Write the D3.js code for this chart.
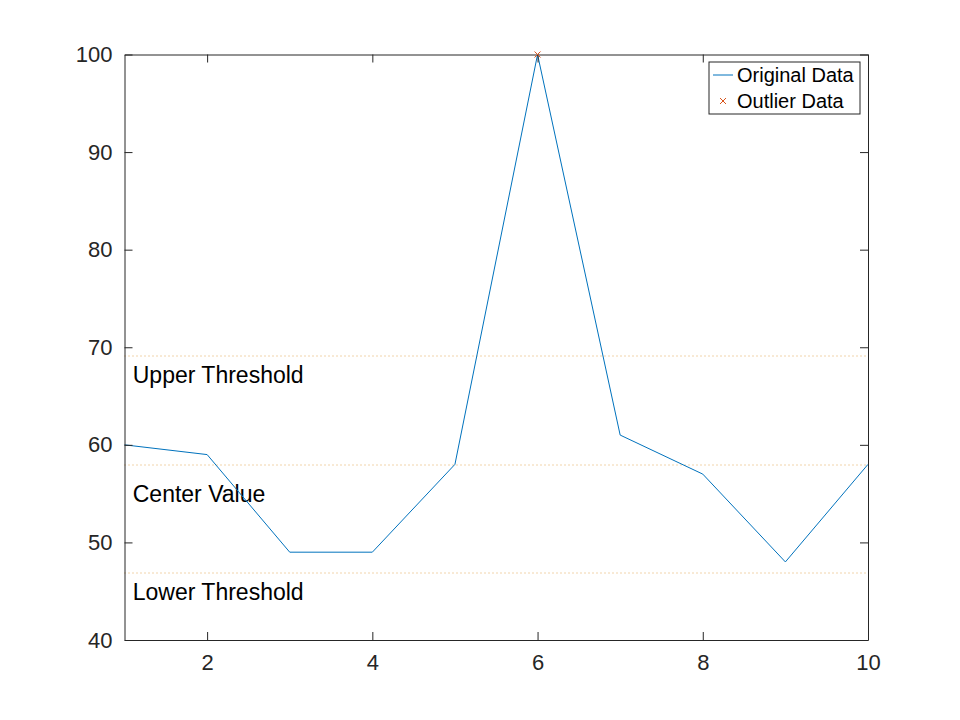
<!DOCTYPE html>
<html>
<head>
<meta charset="utf-8">
<script src="https://cdn.jsdelivr.net/npm/d3@7"></script>
<style>
  body { margin: 0; background: #fff; }
  text { font-family: "Liberation Sans", Arial, sans-serif; }
</style>
</head>
<body>
<div id="chart"></div>
<script>
// data
let xValues = [1, 2, 3, 4, 5, 6, 7, 8, 9, 10];
let yValues = [60, 59, 49, 49, 58, 100, 61, 57, 48, 58];
let outlierX = [6];
let outlierY = [100];
let thresholdNames = ["Upper Threshold", "Center Value", "Lower Threshold"];
let thresholdValues = [69.12, 58, 46.88];
let xTicks = [2, 4, 6, 8, 10];
let yTicks = [40, 50, 60, 70, 80, 90, 100];
let legendNames = ["Original Data", "Outlier Data"];

let blue = "#0072BD", orange = "#D95319", yellow = "#E3A857", axisColor = "#262626";

let margin = { top: 54.5, right: 92, bottom: 80, left: 124.5 };
let width = 960 - margin.left - margin.right;
let height = 720 - margin.top - margin.bottom;

let svg = d3.select("#chart").append("svg")
    .attr("width", 960)
    .attr("height", 720)
    .append("g")
    .attr("transform", "translate(" + margin.left + "," + margin.top + ")");

let x = d3.scaleLinear().domain([1, 10]).range([0, width]);
let y = d3.scaleLinear().domain([40, 100]).range([height, 0]);

// threshold lines (dotted)
svg.selectAll(".thr")
    .data(thresholdValues)
    .enter().append("line")
    .attr("class", "thr")
    .attr("x1", 0).attr("x2", width)
    .attr("y1", d => Math.round(y(d)) + 0.5).attr("y2", d => Math.round(y(d)) + 0.5)
    .attr("stroke", yellow)
    .attr("stroke-width", 1)
    .attr("stroke-dasharray", "1,3");

// labels sit a little under each line
let labelOffset = [2, 3, 2];
svg.selectAll(".thr-label")
    .data(thresholdNames)
    .enter().append("text")
    .attr("class", "thr-label")
    .attr("x", x(1.1))
    .attr("y", (d, i) => y(thresholdValues[i] - labelOffset[i]))
    .attr("dy", "0.35em")
    .style("font-size", "23px")
    .style("fill", "#000")
    .text(d => d);

// data line
let line = d3.line()
    .x((d, i) => x(xValues[i]))
    .y(d => y(d));

svg.append("path")
    .datum(yValues)
    .attr("fill", "none")
    .attr("stroke", blue)
    .attr("stroke-width", 1)
    .attr("d", line);

// axes: box with inward ticks on all sides
let tickLen = 8;
let xAxisB = d3.axisBottom(x).tickValues(xTicks).tickSizeInner(-tickLen).tickSizeOuter(0).tickPadding(14);
let xAxisT = d3.axisTop(x).tickValues(xTicks).tickSizeInner(-tickLen).tickSizeOuter(0).tickFormat("");
let yAxisL = d3.axisLeft(y).tickValues(yTicks).tickSizeInner(-tickLen).tickSizeOuter(0).tickPadding(12);
let yAxisR = d3.axisRight(y).tickValues(yTicks).tickSizeInner(-tickLen).tickSizeOuter(0).tickFormat("");

svg.append("g").attr("transform", "translate(0," + height + ")").call(xAxisB);
svg.append("g").call(xAxisT);
svg.append("g").call(yAxisL);
svg.append("g").attr("transform", "translate(" + width + ",0)").call(yAxisR);

svg.selectAll(".domain, .tick line")
    .attr("stroke", axisColor)
    .attr("stroke-width", 1);
svg.selectAll(".tick text")
    .style("font-size", "22px")
    .style("font-family", "Liberation Sans, Arial, sans-serif")
    .attr("fill", axisColor);

// outlier marker, drawn over the axis box
let cross = (g, cx, cy, r) => {
    g.append("path")
        .attr("d", `M${cx - r},${cy - r}L${cx + r},${cy + r}M${cx - r},${cy + r}L${cx + r},${cy - r}`)
        .attr("stroke", orange)
        .attr("stroke-width", 1)
        .attr("fill", "none");
};
outlierX.forEach((d, i) => cross(svg, x(d), y(outlierY[i]), 3));

// legend
let legend = svg.append("g")
    .attr("transform", "translate(" + (709 - margin.left) + "," + (62 - margin.top) + ")");

legend.append("rect")
    .attr("width", 151)
    .attr("height", 52)
    .attr("fill", "#fff")
    .attr("stroke", axisColor)
    .attr("stroke-width", 1);

legend.append("line")
    .attr("x1", 4).attr("x2", 24)
    .attr("y1", 13).attr("y2", 13)
    .attr("stroke", blue)
    .attr("stroke-width", 1);
cross(legend, 14, 39, 3);

legend.selectAll(".leg-text")
    .data(legendNames)
    .enter().append("text")
    .attr("class", "leg-text")
    .attr("x", 28)
    .attr("y", (d, i) => 13 + i * 26)
    .attr("dy", "0.35em")
    .style("font-size", "20px")
    .style("fill", "#000")
    .text(d => d);
</script>
</body>
</html>
